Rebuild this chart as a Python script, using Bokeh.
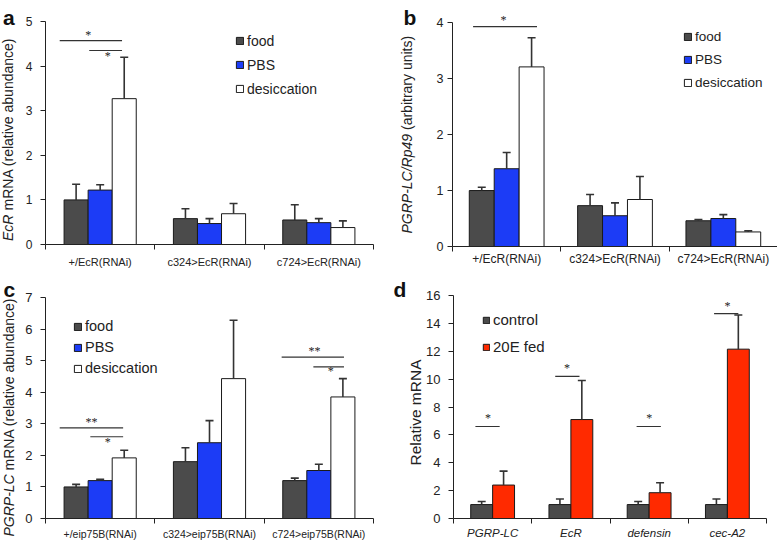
from math import pi
from bokeh.plotting import figure
from bokeh.models import (Range1d, FixedTicker, Label, LabelSet, Legend, LegendItem,
                          ColumnDataSource)
from bokeh.embed import file_html
from bokeh.resources import INLINE

# ---------------- data ----------------
a_groups = ["+/EcR(RNAi)", "c324>EcR(RNAi)", "c724>EcR(RNAi)"]
a_food = [1.0, 0.58, 0.55]
a_food_err = [1.35, 0.80, 0.89]
a_pbs = [1.22, 0.47, 0.49]
a_pbs_err = [1.34, 0.58, 0.58]
a_des = [3.27, 0.69, 0.38]
a_des_err = [4.20, 0.92, 0.53]
a_yticks = [0, 1, 2, 3, 4, 5]
a_sig_x0 = [0.13, 0.40]
a_sig_x1 = [0.70, 0.70]
a_sig_y = [4.57, 4.35]
a_star_x = [0.39, 0.57]
a_star_y = [4.70, 4.22]
a_star_t = ["*", "*"]

b_groups = ["+/EcR(RNAi)", "c324>EcR(RNAi)", "c724>EcR(RNAi)"]
b_food = [1.0, 0.73, 0.46]
b_food_err = [1.06, 0.93, 0.48]
b_pbs = [1.39, 0.55, 0.50]
b_pbs_err = [1.68, 0.78, 0.57]
b_des = [3.21, 0.84, 0.26]
b_des_err = [3.73, 1.25, 0.28]
b_yticks = [0, 1, 2, 3, 4]
b_sig_x0 = [0.19]
b_sig_x1 = [0.78]
b_sig_y = [3.93]
b_star_x = [0.47]
b_star_y = [4.04]
b_star_t = ["*"]

c_groups = ["+/eip75B(RNAi)", "c324>eip75B(RNAi)", "c724>eip75B(RNAi)"]
c_food = [1.0, 1.80, 1.20]
c_food_err = [1.08, 2.24, 1.28]
c_pbs = [1.20, 2.40, 1.52]
c_pbs_err = [1.24, 3.10, 1.72]
c_des = [1.92, 4.43, 3.85]
c_des_err = [2.16, 6.28, 4.43]
c_yticks = [0, 1, 2, 3, 4, 5, 6, 7]
c_sig_x0 = [0.13, 0.41, 2.16, 2.45]
c_sig_x1 = [0.71, 0.71, 2.73, 2.73]
c_sig_y = [2.87, 2.59, 5.11, 4.80]
c_star_x = [0.42, 0.57, 2.46, 2.61]
c_star_y = [3.05, 2.42, 5.29, 4.68]
c_star_t = ["**", "*", "**", "*"]

d_genes = ["PGRP-LC", "EcR", "defensin", "cec-A2"]
d_ctrl = [1.0, 1.0, 1.0, 1.0]
d_ctrl_err = [1.22, 1.40, 1.22, 1.40]
d_fed = [2.40, 7.10, 1.85, 12.15]
d_fed_err = [3.40, 9.90, 2.57, 14.60]
d_yticks = [0, 2, 4, 6, 8, 10, 12, 14, 16]
d_sig_x0 = [0.28, 1.30, 2.34, 3.33]
d_sig_x1 = [0.59, 1.61, 2.65, 3.64]
d_sig_y = [6.6, 10.2, 6.6, 14.7]
d_star_x = [0.44, 1.45, 2.50, 3.50]
d_star_y = [7.2, 10.8, 7.2, 15.25]
d_star_t = ["*", "*", "*", "*"]

# ---------------- style ----------------
FOOD = "#4b4b4b"
PBS = "#1c3cf6"
DES = "#ffffff"
RED = "#ff2a00"
INK = "#222222"
SANS = "Liberation Sans"


def base_fig(w, h, ymax, ytop, ngroups, yticks, borders, ytick_size, ytick_standoff):
    l, r, t, b = borders
    p = figure(width=w, height=h, output_backend="svg", toolbar_location=None,
               x_range=Range1d(0, ngroups), y_range=Range1d(0, ytop),
               min_border_left=l, min_border_right=r, min_border_top=t, min_border_bottom=b)
    p.title.visible = False
    p.outline_line_color = None
    p.xgrid.visible = False
    p.ygrid.visible = False
    p.background_fill_color = "white"
    p.border_fill_color = "white"
    p.yaxis.ticker = FixedTicker(ticks=yticks)
    p.yaxis.bounds = (0, ymax)
    p.yaxis.major_tick_out = 5
    p.yaxis.major_tick_in = 0
    p.yaxis.minor_tick_out = 0
    p.yaxis.minor_tick_in = 0
    p.yaxis.axis_line_color = INK
    p.yaxis.major_tick_line_color = INK
    p.yaxis.major_label_text_font = SANS
    p.yaxis.major_label_text_font_size = ytick_size
    p.yaxis.major_label_text_color = INK
    p.yaxis.major_label_standoff = ytick_standoff
    return p


def strip(w, h):
    s = figure(width=w, height=h, output_backend="svg", toolbar_location=None,
               x_range=Range1d(0, w), y_range=Range1d(0, h), min_border=0,
               x_axis_type=None, y_axis_type=None)
    s.title.visible = False
    s.outline_line_color = None
    s.grid.visible = False
    s.background_fill_color = "white"
    s.border_fill_color = "white"
    return s


def set_xaxis(p, groups, size, style, standoff):
    centers = [i + 0.5 for i in range(len(groups))]
    bounds = [i for i in range(len(groups) + 1)]
    p.xaxis.ticker = FixedTicker(ticks=centers, minor_ticks=bounds)
    p.xaxis.major_label_overrides = {c: g for c, g in zip(centers, groups)}
    p.xaxis.major_tick_out = 0
    p.xaxis.major_tick_in = 0
    p.xaxis.minor_tick_out = 5
    p.xaxis.minor_tick_in = 0
    p.xaxis.axis_line_color = INK
    p.xaxis.minor_tick_line_color = INK
    p.xaxis.major_label_text_font = SANS
    p.xaxis.major_label_text_font_size = size
    p.xaxis.major_label_text_font_style = style
    p.xaxis.major_label_text_color = INK
    p.xaxis.major_label_standoff = standoff


def bars(p, series, width):
    n = len(series)
    renderers = []
    for k, (vals, errs, color) in enumerate(series):
        off = (k - (n - 1) / 2) * width
        xs = [i + 0.5 + off for i in range(len(vals))]
        r = p.vbar(x=xs, top=vals, bottom=0, width=width, fill_color=color,
                   line_color="#1a1a1a", line_width=1)
        renderers.append(r)
    for k, (vals, errs, color) in enumerate(series):
        off = (k - (n - 1) / 2) * width
        xs = [i + 0.5 + off for i in range(len(vals))]
        p.segment(x0=xs, y0=vals, x1=xs, y1=errs, line_color="#333333", line_width=1.6)
        p.scatter(x=xs, y=errs, marker="dash", size=8, line_color="#333333", line_width=1.6)
    return renderers


def sig(p, x0, x1, y, sx, sy, st, size="12px"):
    p.segment(x0=x0, y0=y, x1=x1, y1=y, line_color="#333333", line_width=1.2)
    src = ColumnDataSource(dict(x=sx, y=sy, t=st))
    p.add_layout(LabelSet(x="x", y="y", text="t", source=src, text_align="center",
                          text_baseline="middle", text_font=SANS, text_font_size=size,
                          text_color=INK))


def legend(p, renderers, labels, loc, size, gsize, spacing, lheight):
    items = [LegendItem(label=lab, renderers=[r]) for lab, r in zip(labels, renderers)]
    lg = Legend(items=items, location=loc, orientation="vertical",
                glyph_width=gsize, glyph_height=gsize, label_standoff=3,
                spacing=spacing, label_height=lheight, padding=0, margin=0,
                border_line_color=None, background_fill_alpha=0,
                label_text_font=SANS, label_text_font_size=size, label_text_color=INK)
    p.add_layout(lg)


def ylabel(s, pieces, x, y0, size):
    for text, style, dy in pieces:
        s.add_layout(Label(x=x, y=y0 + dy, text=text, angle=pi / 2, text_font=SANS,
                           text_font_style=style, text_font_size=size, text_align="left",
                           text_baseline="middle", text_color=INK))


def panel_letter(s, letter, x, y):
    s.add_layout(Label(x=x, y=y, text=letter, text_font=SANS, text_font_style="bold",
                       text_font_size="21px", text_align="left", text_baseline="alphabetic",
                       text_color="#111111"))


# ---------------- panel a ----------------
sa = strip(20, 270)
pa = base_fig(370, 270, 5, 5, 3, a_yticks, (25, 17, 21, 26), "12px", 8)
set_xaxis(pa, a_groups, "11px", "normal", 6)
ra = bars(pa, [(a_food, a_food_err, FOOD), (a_pbs, a_pbs_err, PBS), (a_des, a_des_err, DES)], 0.22)
sig(pa, a_sig_x0, a_sig_x1, a_sig_y, a_star_x, a_star_y, a_star_t)
legend(pa, ra, ["food", "PBS", "desiccation"], (190, 147), "14px", 9, 7, 17)
ylabel(sa, [("EcR", "italic", 0), ("mRNA  (relative abundance)", "normal", 30.5)], 7.8, 29.5, "14px")
panel_letter(sa, "a", 2.5, 253)

# ---------------- panel b ----------------
sb = strip(30, 270)
pb = base_fig(357, 270, 4, 4.2, 3, b_yticks, (32, 0, 11, 24), "12.5px", 4)
set_xaxis(pb, b_groups, "12px", "normal", 0)
rb = bars(pb, [(b_food, b_food_err, FOOD), (b_pbs, b_pbs_err, PBS), (b_des, b_des_err, DES)], 0.23)
sig(pb, b_sig_x0, b_sig_x1, b_sig_y, b_star_x, b_star_y, b_star_t)
legend(pb, rb, ["food", "PBS", "desiccation"], (231, 155), "13.5px", 9, 6, 17)
ylabel(sb, [("PGRP-LC/Rp49", "italic", 0), ("(arbitrary units)", "normal", 103.5)], 16, 37, "14px")
panel_letter(sb, "b", 13, 253)

# ---------------- panel c ----------------
sc = strip(20, 272)
pc = base_fig(370, 272, 7, 7, 3, c_yticks, (25, 17, 27, 23), "13px", 8)
set_xaxis(pc, c_groups, "10.5px", "normal", 4)
rc = bars(pc, [(c_food, c_food_err, FOOD), (c_pbs, c_pbs_err, PBS), (c_des, c_des_err, DES)], 0.22)
sig(pc, c_sig_x0, c_sig_x1, c_sig_y, c_star_x, c_star_y, c_star_t)
legend(pc, rc, ["food", "PBS", "desiccation"], (28, 142), "14.5px", 9, 5, 16)
ylabel(sc, [("PGRP-LC", "italic", 0), ("mRNA  (relative abundance)", "normal", 66)], 8.3, 6, "14px")
panel_letter(sc, "c", 3, 253)

# ---------------- panel d ----------------
sd = strip(32, 272)
pd_ = base_fig(355, 272, 16, 16, 4, d_yticks, (31, 11, 25, 24), "13px", 8)
set_xaxis(pd_, d_genes, "11.5px", "italic", 3)
rd = bars(pd_, [(d_ctrl, d_ctrl_err, FOOD), (d_fed, d_fed_err, RED)], 0.28)
sig(pd_, d_sig_x0, d_sig_x1, d_sig_y, d_star_x, d_star_y, d_star_t)
legend(pd_, rd, ["control", "20E fed"], (29, 163), "15px", 8, 10, 17)
sd.add_layout(Label(x=24.5, y=130, text="Relative mRNA", angle=pi / 2, text_font=SANS,
                    text_font_size="15.5px", text_align="center", text_baseline="middle",
                    text_color=INK))
panel_letter(sd, "d", 3, 253)

# independent roots laid out side by side (no border alignment between figures)
TEMPLATE = """
{% block postamble %}
<style>
  body { display: flex !important; flex-wrap: wrap; width: 777px; height: auto !important;
         align-items: flex-start; align-content: flex-start; }
  body > * > * { flex: none; }
</style>
{% endblock %}
"""

roots = [sa, pa, sb, pb, sc, pc, sd, pd_]
open("out.html", "w").write(file_html(roots, INLINE, template=TEMPLATE))
